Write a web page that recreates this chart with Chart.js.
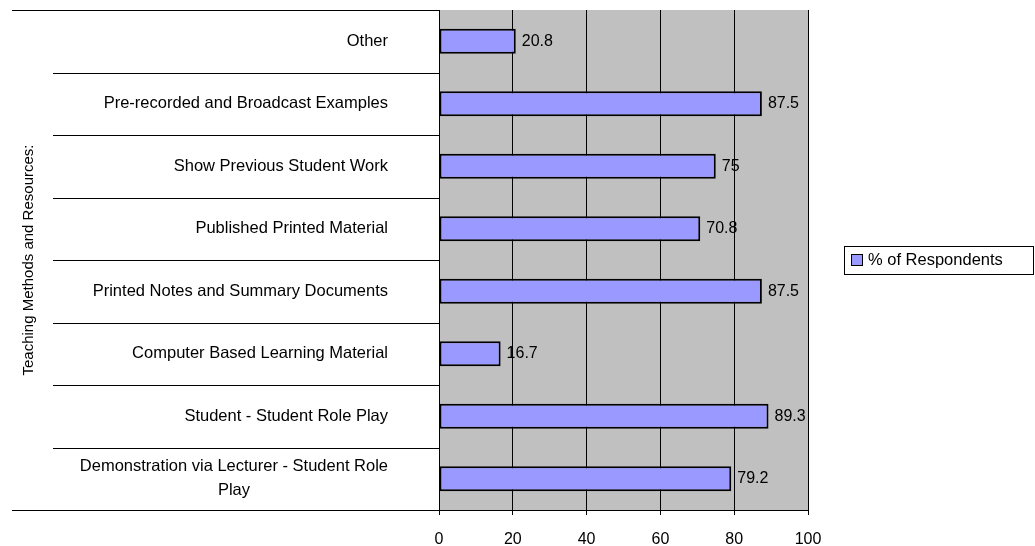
<!DOCTYPE html>
<html>
<head>
<meta charset="utf-8">
<script src="https://cdn.jsdelivr.net/npm/chart.js@4.4.1/dist/chart.umd.min.js"></script>
<style>
  html, body { margin: 0; padding: 0; background: #fff; }
  #wrap { width: 1035px; height: 546px; }
</style>
</head>
<body>
<div id="wrap"><canvas id="chart" width="1035" height="546"></canvas></div>
<script>
const categories = [
  'Other',
  'Pre-recorded and Broadcast Examples',
  'Show Previous Student Work',
  'Published Printed Material',
  'Printed Notes and Summary Documents',
  'Computer Based Learning Material',
  'Student - Student Role Play',
  ['Demonstration via Lecturer - Student Role', 'Play']
]
const respondents = [20.8, 87.5, 75, 70.8, 87.5, 16.7, 89.3, 79.2]
const xTicks = [0, 20, 40, 60, 80, 100]
const seriesName = '% of Respondents'
const axisTitle = 'Teaching Methods and Resources:'

const FONT = 'Liberation Sans, Arial, sans-serif'
const FSIZE = 16.5
const barFill = '#9999FF'

// grey plot area
const plotBg = {
  id: 'plotBg',
  beforeDraw(chart) {
    const { ctx, chartArea: a } = chart
    ctx.save()
    ctx.fillStyle = '#C0C0C0'
    ctx.fillRect(a.left, a.top, a.right - a.left, a.bottom - a.top)
    ctx.restore()
  }
}

// category labels with separator lines, value labels, boxed legend
const extras = {
  id: 'extras',
  afterDraw(chart) {
    const { ctx, chartArea: a } = chart
    const y = chart.scales.y
    ctx.save()
    ctx.strokeStyle = '#000'
    ctx.lineWidth = 1
    // separators
    for (let i = 0; i <= categories.length; i++) {
      let yy
      if (i === 0) yy = a.top
      else if (i === categories.length) yy = a.bottom
      else yy = (y.getPixelForValue(i - 1) + y.getPixelForValue(i)) / 2
      yy = Math.round(yy) + 0.5
      const x0 = (i === 0 || i === categories.length) ? 12 : 53
      ctx.beginPath()
      ctx.moveTo(x0, yy)
      ctx.lineTo(a.left, yy)
      ctx.stroke()
    }
    // category labels
    ctx.fillStyle = '#000'
    ctx.font = FSIZE + 'px ' + FONT
    ctx.textBaseline = 'middle'
    const rightX = a.left - 51
    categories.forEach((lab, i) => {
      const cy = y.getPixelForValue(i)
      const lines = Array.isArray(lab) ? lab : [lab]
      const lh = 24
      const w = Math.max(...lines.map(l => ctx.measureText(l).width))
      const cx = rightX - w / 2
      lines.forEach((l, j) => {
        const ly = cy + (j - (lines.length - 1) / 2) * lh
        if (lines.length === 1) {
          ctx.textAlign = 'right'
          ctx.fillText(l, rightX, ly)
        } else {
          ctx.textAlign = 'center'
          ctx.fillText(l, cx, ly)
        }
      })
    })
    // value labels
    ctx.font = '16px ' + FONT
    ctx.textAlign = 'left'
    chart.getDatasetMeta(0).data.forEach((bar, i) => {
      ctx.fillText(String(respondents[i]), bar.x + 6, bar.y)
    })
    // legend
    ctx.font = FSIZE + 'px ' + FONT
    const lx = a.right + 36, lw = 189, lh = 28
    const ly = (a.top + a.bottom) / 2 - lh / 2
    ctx.fillStyle = '#fff'
    ctx.fillRect(lx, ly, lw, lh)
    ctx.strokeRect(Math.round(lx) + 0.5, Math.round(ly) + 0.5, lw, lh)
    ctx.fillStyle = barFill
    ctx.fillRect(lx + 7, ly + 8, 12, 12)
    ctx.strokeRect(lx + 7.5, ly + 8.5, 11, 11)
    ctx.fillStyle = '#000'
    ctx.textAlign = 'left'
    ctx.fillText(seriesName, lx + 24, ly + lh / 2)
    ctx.restore()
  }
}

new Chart(document.getElementById('chart'), {
  type: 'bar',
  data: {
    labels: categories,
    datasets: [{
      label: seriesName,
      data: respondents,
      backgroundColor: barFill,
      borderColor: '#000',
      borderWidth: 2,
      borderSkipped: false,
      barPercentage: 0.4,
      categoryPercentage: 1
    }]
  },
  options: {
    indexAxis: 'y',
    responsive: false,
    animation: false,
    layout: { padding: { top: 10, right: 227, bottom: 0, left: 0 } },
    plugins: {
      legend: { display: false },
      tooltip: { enabled: false }
    },
    scales: {
      x: {
        min: 0,
        max: 100,
        afterBuildTicks(scale) { scale.ticks = xTicks.map(v => ({ value: v })) },
        afterFit(scale) { scale.height = 36 },
        grid: { color: '#000', lineWidth: 1, tickLength: 5, tickColor: '#000' },
        border: { color: '#000', width: 1 },
        ticks: { color: '#000', font: { family: FONT, size: 16 }, padding: 15, maxRotation: 0 }
      },
      y: {
        afterFit(scale) { scale.width = 439 },
        grid: { display: false },
        border: { display: true, color: '#000', width: 1 },
        ticks: { display: false },
        title: {
          display: true,
          text: axisTitle,
          color: '#000',
          font: { family: FONT, size: 15 },
          padding: { top: 20, bottom: 0 }
        }
      }
    }
  },
  plugins: [plotBg, extras]
})
</script>
</body>
</html>
